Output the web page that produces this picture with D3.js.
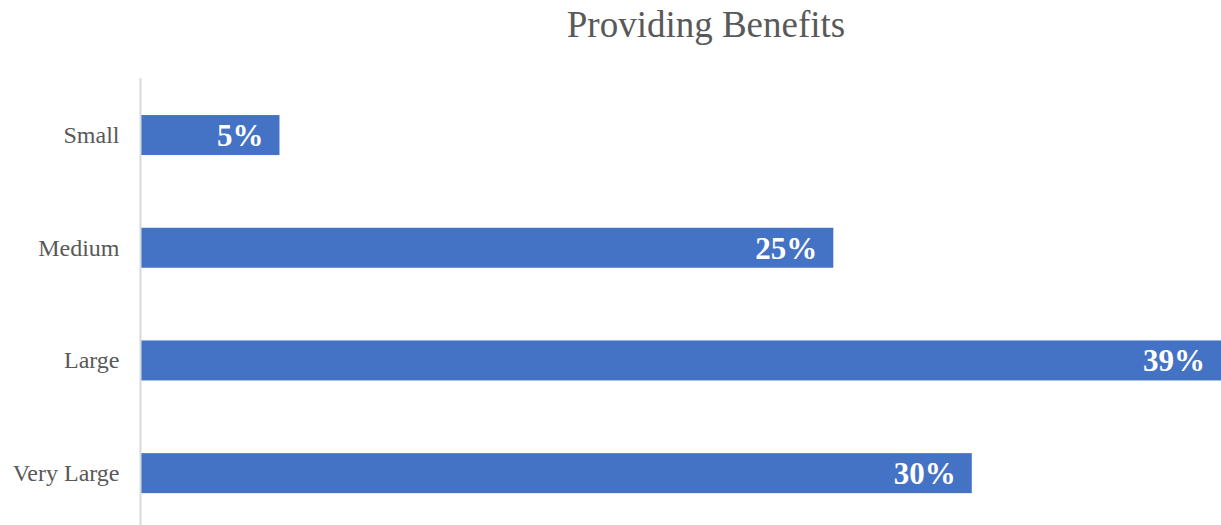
<!DOCTYPE html>
<html>
<head>
<meta charset="utf-8">
<script src="https://cdn.jsdelivr.net/npm/d3@7"></script>
<style>
  html, body { margin: 0; padding: 0; background: #ffffff; }
  svg { display: block; }
</style>
</head>
<body>
<svg id="chart" width="1221" height="525"></svg>
<script>
// Share of respondents by company size
const categories = ["Small", "Medium", "Large", "Very Large"];
const values = [5, 25, 39, 30];
const valueLabels = ["5%", "25%", "39%", "30%"];
const title = "Providing Benefits";

const width = 1221, height = 525;
const svg = d3.select("#chart");

const x = d3.scaleLinear().domain([0, 39]).range([141, 1221]);
const y = d3.scaleBand()
  .domain(categories)
  .range([78.7, 529.5])
  .paddingInner(0.645)
  .paddingOuter(0.3225);

// Title
svg.append("text")
  .attr("x", 706)
  .attr("y", 37)
  .attr("text-anchor", "middle")
  .attr("font-family", "'Liberation Serif', 'Times New Roman', serif")
  .attr("font-size", 37)
  .attr("fill", "#595959")
  .text(title);

// Bars
svg.append("g")
  .selectAll("rect")
  .data(categories)
  .join("rect")
  .attr("x", x(0))
  .attr("y", d => y(d))
  .attr("width", (d, i) => x(values[i]) - x(0))
  .attr("height", y.bandwidth())
  .attr("fill", "#4472C4");

// Category axis
const yAxis = svg.append("g")
  .attr("transform", `translate(${x(0) - 0.5},0)`)
  .call(d3.axisLeft(y).tickSize(0).tickPadding(21));
yAxis.select(".domain")
  .attr("d", `M0,78V${height}`)
  .attr("stroke", "#d9d9d9")
  .attr("stroke-width", 2);
yAxis.selectAll("text")
  .attr("font-family", "'Liberation Serif', 'Times New Roman', serif")
  .attr("font-size", 24)
  .attr("fill", "#595959")
  .attr("dy", "0.33em");

// Value labels inside the bar ends
svg.append("g")
  .selectAll("text")
  .data(categories)
  .join("text")
  .attr("x", (d, i) => x(values[i]) - 16)
  .attr("y", d => y(d) + y.bandwidth() / 2 + 11)
  .attr("text-anchor", "end")
  .attr("font-family", "'Liberation Serif', 'Times New Roman', serif")
  .attr("font-weight", "bold")
  .attr("font-size", 31)
  .attr("fill", "#ffffff")
  .text((d, i) => valueLabels[i]);
</script>
</body>
</html>
